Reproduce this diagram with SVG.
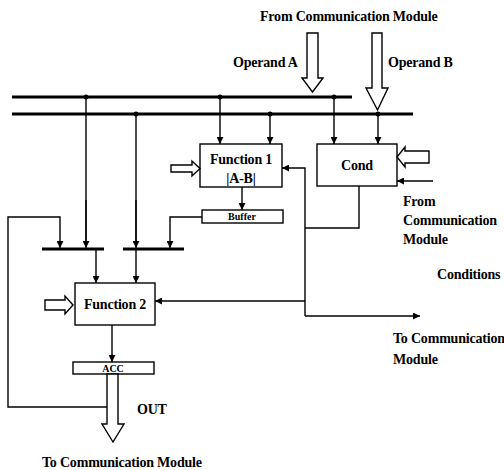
<svg xmlns="http://www.w3.org/2000/svg" width="504" height="470" viewBox="0 0 504 470">
<defs>
<marker id="ah" viewBox="0 0 10 10" refX="10" refY="5" markerWidth="7" markerHeight="7" markerUnits="userSpaceOnUse" orient="auto">
<path d="M0,0 L10,5 L0,10 z" fill="#000"/>
</marker>
<style>
.t{font-family:"Liberation Serif","Times New Roman",serif;font-weight:bold;font-size:14px;fill:#000;letter-spacing:-0.2px}
.s{font-family:"Liberation Serif","Times New Roman",serif;font-weight:bold;font-size:10px;fill:#000}
.box{fill:#fff;stroke:#000;stroke-width:1.4}
.ln{fill:none;stroke:#000;stroke-width:1.4}
.ar{fill:none;stroke:#000;stroke-width:1.4;marker-end:url(#ah)}
.bus{stroke:#000;stroke-width:3.2;fill:none}
.hol{fill:#fff;stroke:#000;stroke-width:1.4;stroke-linejoin:miter}
.dot{fill:#000}
</style>
</defs>
<rect width="504" height="470" fill="#fff"/>

<g id="buses">
<line class="bus" x1="12" y1="97" x2="352" y2="97"/>
<line class="bus" x1="12" y1="114" x2="413" y2="114"/>
<line class="bus" x1="42" y1="249" x2="104" y2="249"/>
<line class="bus" x1="123" y1="249" x2="184" y2="249"/>
</g>

<g id="connectors">
<line class="ln" x1="86" y1="97" x2="86" y2="241"/>
<line class="ar" x1="86" y1="200" x2="86" y2="248"/>
<line class="ln" x1="136" y1="114" x2="136" y2="241"/>
<line class="ar" x1="136" y1="200" x2="136" y2="248"/>
<line class="ar" x1="220" y1="97" x2="220" y2="144"/>
<line class="ar" x1="270" y1="114" x2="270" y2="144"/>
<line class="ar" x1="334" y1="97" x2="334" y2="144"/>
<line class="ar" x1="378" y1="114" x2="378" y2="144"/>
<line class="ar" x1="242" y1="187" x2="242" y2="210"/>
<polyline class="ar" points="202,217 170,217 170,248"/>
<polyline class="ar" points="107,407 8,407 8,217 60,217 60,248"/>
<line class="ar" x1="96" y1="249" x2="96" y2="283"/>
<line class="ar" x1="136" y1="249" x2="136" y2="283"/>
<line class="ar" x1="112" y1="325" x2="112" y2="362"/>
<polyline class="ln" points="359,186 359,228 305,228"/>
<polyline class="ar" points="305,316 305,168 282,168"/>
<line class="ar" x1="305" y1="301" x2="155" y2="301"/>
<line class="ar" x1="305" y1="316" x2="420" y2="316"/>
<line class="ar" x1="433" y1="181" x2="397" y2="181"/>
<circle class="dot" cx="86" cy="97" r="2.5"/>
<circle class="dot" cx="220" cy="97" r="2.5"/>
<circle class="dot" cx="334" cy="97" r="2.5"/>
<circle class="dot" cx="136" cy="114" r="2.5"/>
<circle class="dot" cx="270" cy="114" r="2.5"/>
<circle class="dot" cx="378" cy="114" r="2.5"/>
</g>

<g id="operandA">
<polygon class="hol" points="307,33 318,33 318,78 323,78 312.5,92 302,78 307,78"/>
<text class="t" x="233" y="67">Operand A</text>
</g>
<g id="operandB">
<polygon class="hol" points="372,33 382,33 382,88 388,88 377.5,110 366,88 372,88"/>
<text class="t" x="388" y="67">Operand B</text>
</g>
<text class="t" x="260" y="21">From Communication Module</text>

<g id="function1">
<rect class="box" x="200" y="144" width="82" height="43"/>
<text class="t" x="241" y="164" text-anchor="middle">Function 1</text>
<text class="t" x="241" y="183" text-anchor="middle">|A-B|</text>
<polygon class="hol" points="171,165 192,165 192,161 200,168.5 192,176 192,172 171,172"/>
</g>

<g id="buffer">
<rect class="box" x="202" y="210" width="81" height="13"/>
<text class="s" x="242" y="220" text-anchor="middle">Buffer</text>
</g>

<g id="cond">
<rect class="box" x="317" y="144" width="80" height="42"/>
<text class="t" x="357" y="170" text-anchor="middle">Cond</text>
<polygon class="hol" points="397,157 405,147 405,151 429,151 429,163 405,163 405,167"/>
</g>
<text class="t" x="403" y="206">From</text>
<text class="t" x="403" y="225">Communication</text>
<text class="t" x="403" y="244">Module</text>
<text class="t" x="437" y="279">Conditions</text>
<text class="t" x="393" y="343">To Communication</text>
<text class="t" x="393" y="364">Module</text>

<g id="function2">
<rect class="box" x="75" y="283" width="80" height="42"/>
<text class="t" x="115" y="309" text-anchor="middle">Function 2</text>
<polygon class="hol" points="45,300 65,300 65,296 73,305 65,314 65,310 45,310"/>
</g>

<g id="acc">
<rect class="box" x="73" y="362" width="81" height="12"/>
<text class="s" x="113" y="371.5" text-anchor="middle">ACC</text>
</g>

<g id="out">
<polygon class="hol" points="107,374 118,374 118,424 124,424 113,442 102,424 107,424"/>
<text class="t" x="137" y="414">OUT</text>
</g>
<text class="t" x="42" y="467">To Communication Module</text>
</svg>
